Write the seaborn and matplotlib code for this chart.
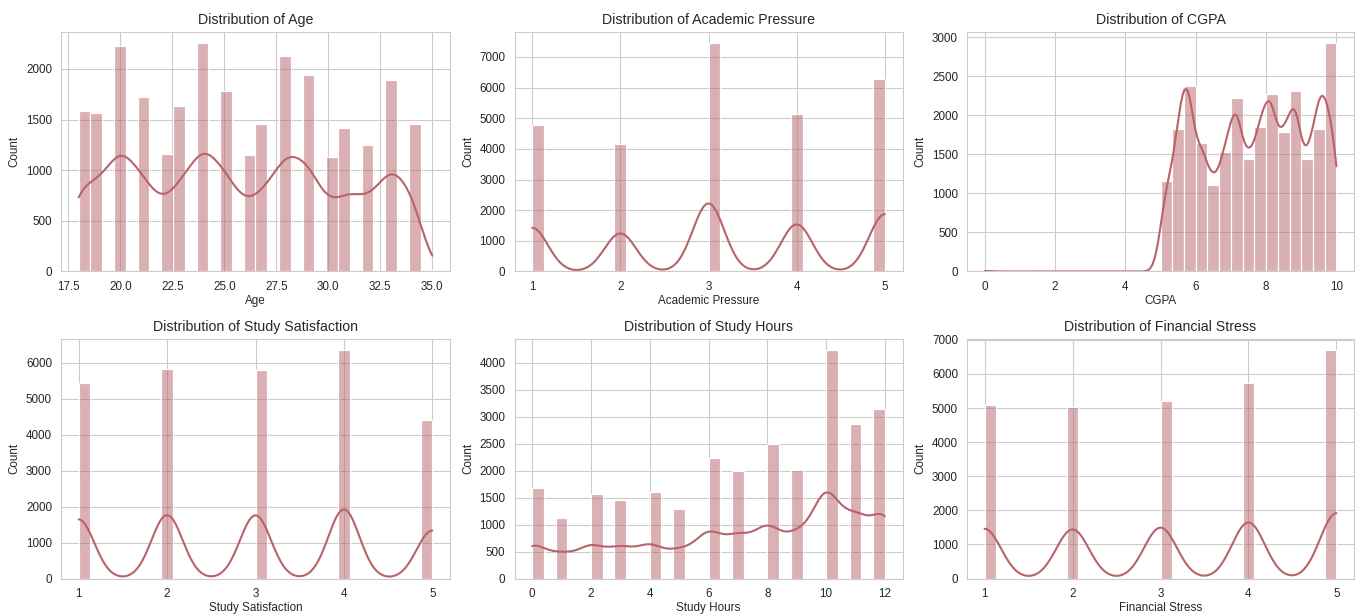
import numpy as np
import pandas as pd
import matplotlib
matplotlib.use("Agg")
import matplotlib.pyplot as plt
import seaborn as sns
from matplotlib.ticker import MultipleLocator

# ---- data ----
age_values = list(range(18, 36))
age_counts = [1580, 1560, 2230, 1720, 1160, 1630, 2252, 1780, 1150, 1460,
              2125, 1940, 1135, 1420, 1250, 1890, 1460, 10]

pressure_levels = [1, 2, 3, 4, 5]
pressure_counts = [4779, 4159, 7440, 5149, 6270]

cgpa_values = [0.0, 5.17, 5.52, 5.8, 6.17, 6.5, 6.83, 7.15, 7.5, 7.83,
               8.14, 8.5, 8.83, 9.2, 9.5, 9.68, 9.84, 10.0]
cgpa_counts = [9, 1165, 1830, 2378, 1641, 1105, 1530, 2224, 1440, 1851,
               2280, 1787, 2314, 1440, 1830, 1000, 1000, 923]

satisfaction_levels = [1, 2, 3, 4, 5]
satisfaction_counts = [5436, 5826, 5798, 6340, 4406]

hours_values = list(range(0, 13))
hours_counts = [1670, 1130, 1565, 1455, 1595, 1280, 2232, 1991, 2492, 2009,
                4228, 2869, 3141]

stress_levels = [1, 2, 3, 4, 5]
stress_counts = [5093, 5024, 5210, 5739, 6690]

columns = ["Age", "Academic Pressure", "CGPA",
           "Study Satisfaction", "Study Hours", "Financial Stress"]
series = {
    "Age": (age_values, age_counts),
    "Academic Pressure": (pressure_levels, pressure_counts),
    "CGPA": (cgpa_values, cgpa_counts),
    "Study Satisfaction": (satisfaction_levels, satisfaction_counts),
    "Study Hours": (hours_values, hours_counts),
    "Financial Stress": (stress_levels, stress_counts),
}
x_steps = [2.5, 1, 2, 1, 2, 1]
y_steps = [500, 1000, 500, 1000, 500, 1000]

# ---- style ----
sns.set_style("whitegrid")
plt.rcParams["font.family"] = ["Liberation Sans", "DejaVu Sans"]
plt.rcParams["xtick.labelsize"] = 8.4
plt.rcParams["ytick.labelsize"] = 8.4
plt.rcParams["axes.labelsize"] = 8.4
plt.rcParams["axes.titlesize"] = 10.2

W, H = 1363, 615
fig = plt.figure(figsize=(W / 100, H / 100), dpi=100)

col_left = [61, 514.5, 967]
col_width = [389, 388, 387]
row_top = [32, 339]
ax_h = 239.5

color = "#b8636a"

for i, col in enumerate(columns):
    r, c = divmod(i, 3)
    left = col_left[c] / W
    bottom = 1 - (row_top[r] + ax_h) / H
    ax = fig.add_axes([left, bottom, col_width[c] / W, ax_h / H])
    vals, cnts = series[col]
    df = pd.DataFrame({col: np.repeat(np.asarray(vals, dtype=float), cnts)})
    sns.histplot(data=df, x=col, bins=30, kde=True, color=color, ax=ax)
    ax.set_title(f"Distribution of {col}", pad=6)
    ax.xaxis.set_major_locator(MultipleLocator(x_steps[i]))
    ax.yaxis.set_major_locator(MultipleLocator(y_steps[i]))
    ax.set_ylabel("Count", labelpad=4)
    ax.set_xlabel(col, labelpad=2)
    ax.tick_params(axis="both", pad=3)

fig.savefig("out.png", dpi=100)
